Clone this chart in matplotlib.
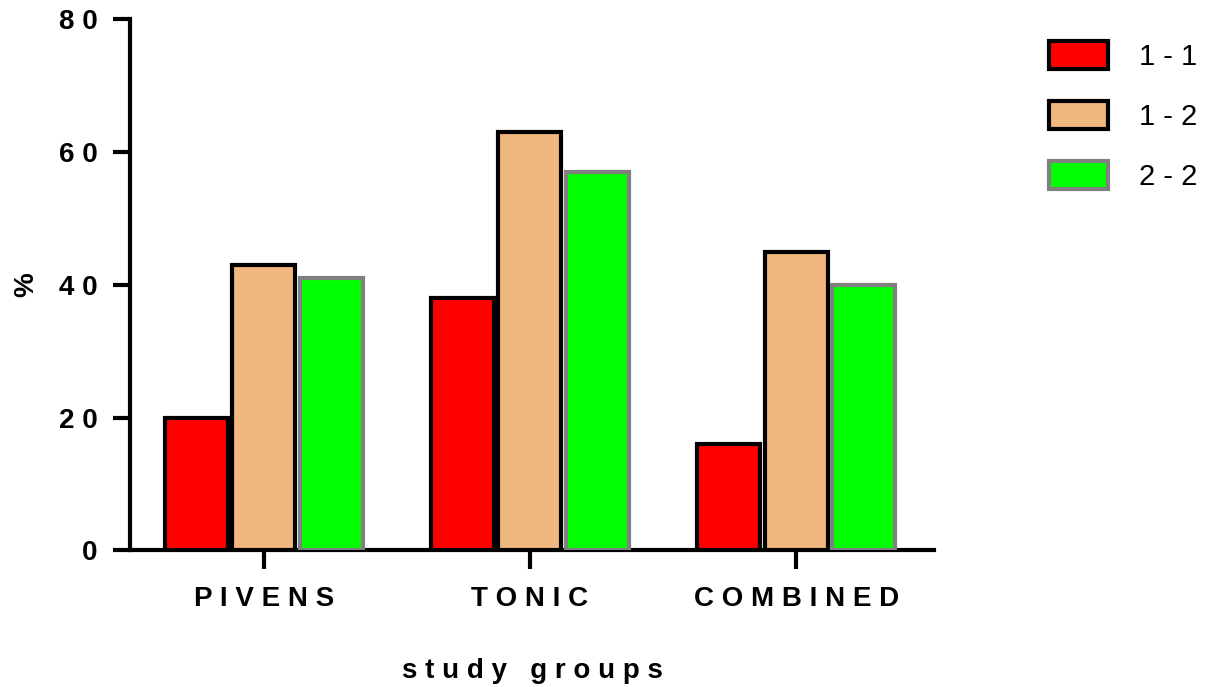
import numpy as np
import matplotlib.pyplot as plt

plt.rcParams['font.family'] = ['Liberation Sans', 'DejaVu Sans']

groups = ["PIVENS", "TONIC", "COMBINED"]
series = ["1-1", "1-2", "2-2"]
vals_11 = [20, 38, 16]
vals_12 = [43, 63, 45]
vals_22 = [41, 57, 40]
y_ticks = [0, 20, 40, 60, 80]

fills = ["#ff0000", "#f0b77f", "#00ff00"]
edges = ["black", "black", "#808080"]

def spaced(s):
    return " ".join(s)

fig = plt.figure(figsize=(12.12, 6.87), dpi=100)
ax = fig.add_axes([0.107, 0.199, 0.664, 0.773])

x = np.arange(len(groups))
step = 0.254
width = 0.237
for i, (vals, name) in enumerate(zip([vals_11, vals_12, vals_22], series)):
    ax.bar(x + (i - 1) * step, vals, width=width, color=fills[i],
           edgecolor=edges[i], linewidth=3, label=name.replace("-", " - "),
           zorder=3)

ax.set_xlim(-0.504, 2.52)
ax.set_ylim(0, 80)
ax.set_yticks(y_ticks)
ax.set_yticklabels([spaced(str(v)) for v in y_ticks], fontsize=20, fontweight="bold")
ax.set_xticks(x)
ax.set_xticklabels([spaced(g) for g in groups], fontsize=20, fontweight="bold")

for s in ["top", "right"]:
    ax.spines[s].set_visible(False)
for s in ["left", "bottom"]:
    ax.spines[s].set_linewidth(3)
ax.tick_params(axis="y", length=12, width=3, pad=11)
ax.tick_params(axis="x", length=14, width=3, pad=12)

ax.set_ylabel("%", fontsize=20, fontweight="bold", labelpad=14)
ax.set_xlabel(spaced("study groups"), fontsize=20, fontweight="bold", labelpad=33)

fig.legend(loc="upper left", bbox_to_anchor=(0.8435, 0.979), frameon=False,
           fontsize=21, handlelength=2.05, handleheight=1.1,
           labelspacing=1.03, handletextpad=1.05)

fig.savefig("out.png", dpi=100)
